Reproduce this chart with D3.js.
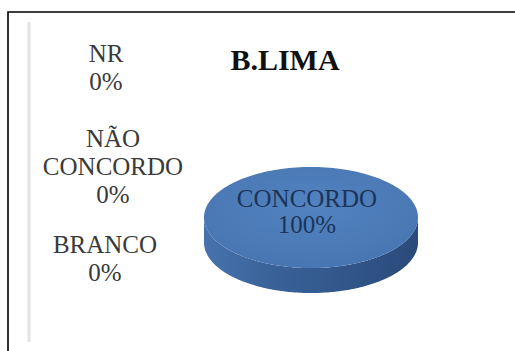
<!DOCTYPE html>
<html>
<head>
<meta charset="utf-8">
<script src="https://cdn.jsdelivr.net/npm/d3@7/dist/d3.min.js"></script>
<style>
  html, body { margin: 0; padding: 0; background: #fff; }
  svg { display: block; }
  .serif { font-family: "Liberation Serif", "Times New Roman", Tinos, "DejaVu Serif", serif; }
</style>
</head>
<body>
<svg id="chart" width="515" height="351"></svg>
<script>
// Survey answers for B.LIMA
const title = "B.LIMA";
const categories = ["CONCORDO", "NÃO CONCORDO", "BRANCO", "NR"];
const values = [100, 0, 0, 0];
const colors = ["#4a7ab6", "#c0504d", "#9bbb59", "#8064a2"];

const W = 515, H = 351;
const svg = d3.select("#chart");

// frame
svg.append("path").attr("d", `M8,351 V12 H515`).attr("fill", "none")
  .attr("stroke", "#000").attr("stroke-width", 1.6);
svg.append("line").attr("x1", 29).attr("x2", 29).attr("y1", 22).attr("y2", 342)
  .attr("stroke", "#e4e4e4").attr("stroke-width", 3);

// title
svg.append("text").attr("class", "serif").attr("x", 285).attr("y", 70).attr("text-anchor", "middle")
  .attr("font-weight", "bold").attr("font-size", 30).attr("fill", "#111")
  .text(title);

// 3D pie geometry
const cx = 311, cy = 217.5, rx = 107, ry = 50.5, depth = 25;
const total = d3.sum(values);
const pie = d3.pie().sort(null).value(d => d.value);
const arcs = pie(categories.map((c, i) => ({ name: c, value: values[i], color: colors[i] })));

// d3.pie angles: 0 at 12 o'clock, clockwise
const pt = (a, dy = 0) => [cx + rx * Math.sin(a), cy - ry * Math.cos(a) + dy];

const defs = svg.append("defs");
const sideGrad = defs.append("linearGradient").attr("id", "side")
  .attr("x1", 0).attr("x2", 1).attr("y1", 0).attr("y2", 0);
sideGrad.append("stop").attr("offset", "0%").attr("stop-color", "#4773ad");
sideGrad.append("stop").attr("offset", "30%").attr("stop-color", "#3a639a");
sideGrad.append("stop").attr("offset", "100%").attr("stop-color", "#2a4a7a");
const topGrad = defs.append("radialGradient").attr("id", "top")
  .attr("cx", "50%").attr("cy", "40%").attr("r", "60%");
topGrad.append("stop").attr("offset", "0%").attr("stop-color", "#5283c0");
topGrad.append("stop").attr("offset", "100%").attr("stop-color", "#4876b2");

const g = svg.append("g");
const N = 180;

arcs.filter(d => d.value > 0).forEach(d => {
  // side wall: only the front-facing part (between PI/2 and 3PI/2)
  const a0 = Math.max(d.startAngle, Math.PI / 2);
  const a1 = Math.min(d.endAngle, 3 * Math.PI / 2);
  if (a1 > a0) {
    const angs = d3.range(N + 1).map(k => a0 + (a1 - a0) * k / N);
    const upper = angs.map(a => pt(a));
    const lower = angs.map(a => pt(a, depth)).reverse();
    g.append("path").attr("d", d3.line()(upper.concat(lower)) + "Z")
      .attr("fill", d.data.value === total ? "url(#side)" : d3.color(d.data.color).darker(0.7));
  }
  // top face
  const angs = d3.range(N + 1).map(k => d.startAngle + (d.endAngle - d.startAngle) * k / N);
  const pts = angs.map(a => pt(a));
  const full = d.endAngle - d.startAngle >= 2 * Math.PI - 1e-6;
  g.append("path").attr("d", d3.line()(full ? pts : [[cx, cy]].concat(pts)) + "Z")
    .attr("fill", d.data.value === total ? "url(#top)" : d.data.color);
});

const pct = v => Math.round(v / total * 100) + "%";

// label of the filled slice, on the pie
const main = arcs.find(d => d.value > 0);
const mainLbl = svg.append("text").attr("class", "serif").attr("text-anchor", "middle")
  .attr("font-size", 25).attr("fill", "#1b3457");
[main.data.name, pct(main.value)].forEach((t, i) =>
  mainLbl.append("tspan").attr("x", 307).attr("y", 207 + i * 26).text(t));

// labels of empty slices, stacked at the left
const side = [
  { name: "NR", x: 106, y: 62 },
  { name: "NÃO CONCORDO", x: 113, y: 147 },
  { name: "BRANCO", x: 105, y: 253 }
];
side.forEach(s => {
  const d = arcs.find(a => a.data.name === s.name);
  const lines = s.name.split(" ").concat([pct(d.value)]);
  const t = svg.append("text").attr("class", "serif").attr("text-anchor", "middle")
    .attr("font-size", 25).attr("fill", "#3a3a3a");
  lines.forEach((l, i) => t.append("tspan").attr("x", s.x).attr("y", s.y + i * 28).text(l));
});
</script>
</body>
</html>
